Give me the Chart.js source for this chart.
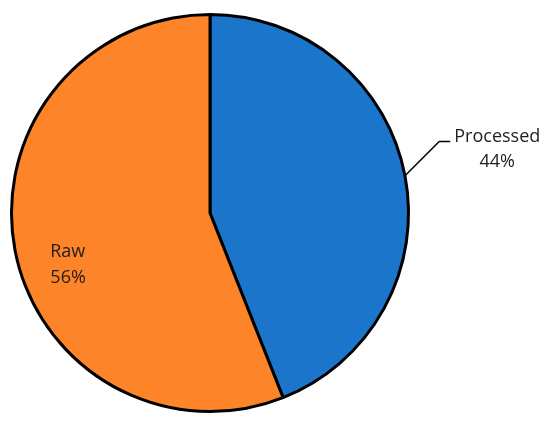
<!DOCTYPE html>
<html>
<head>
<meta charset="utf-8">
<script src="https://cdn.jsdelivr.net/npm/chart.js@4"></script>
<style>
  html, body { margin: 0; padding: 0; background: #fff; }
  canvas { display: block; }
</style>
</head>
<body>
<canvas id="pie" width="550" height="426"></canvas>
<script>
// ===== Data =====
const categories = ['Processed', 'Raw'];
const shares = [44, 56];
const sliceColors = ['#1B75CB', '#FD8428'];

// ===== Label plugin (Excel style data labels) =====
const pieLabels = {
    id: 'pieLabels',
    afterDatasetsDraw(chart) {
        const ctx = chart.ctx;
        const arcs = chart.getDatasetMeta(0).data;
        ctx.save();
        ctx.font = '18px "Open Sans", sans-serif';
        ctx.fillStyle = '#1e1e1e';
        ctx.textAlign = 'center';
        ctx.textBaseline = 'middle';

        // Processed: outside, with a leader line
        const a = arcs[0];
        const mid = (a.startAngle + a.endAngle) / 2;
        const r = a.outerRadius;
        const px = a.x + Math.cos(mid) * r;
        const py = a.y + Math.sin(mid) * r;
        const ex = a.x + r * 1.155, ey = a.y - r * 0.36;
        ctx.strokeStyle = '#000';
        ctx.lineWidth = 1.5;
        ctx.beginPath();
        ctx.moveTo(px, py);
        ctx.lineTo(ex, ey);
        ctx.lineTo(ex + 11, ey);
        ctx.stroke();
        ctx.fillText(categories[0], ex + 58, ey - 5);
        ctx.fillText(shares[0] + '%', ex + 58, ey + 20);

        // Raw: inside the slice
        const b = arcs[1];
        const rb = b.outerRadius;
        ctx.fillText(categories[1], b.x - rb * 0.717, b.y + rb * 0.195);
        ctx.fillText(shares[1] + '%', b.x - rb * 0.715, b.y + rb * 0.325);
        ctx.restore();
    }
};

new Chart(document.getElementById('pie'), {
    type: 'pie',
    data: {
        labels: categories,
        datasets: [{
            data: shares,
            backgroundColor: sliceColors,
            borderColor: '#000',
            borderWidth: 3
        }]
    },
    options: {
        responsive: false,
        animation: false,
        layout: { padding: { left: 10, right: 140, top: 13, bottom: 13 } },
        plugins: {
            legend: { display: false },
            tooltip: { enabled: false }
        }
    },
    plugins: [pieLabels]
});
</script>
</body>
</html>
